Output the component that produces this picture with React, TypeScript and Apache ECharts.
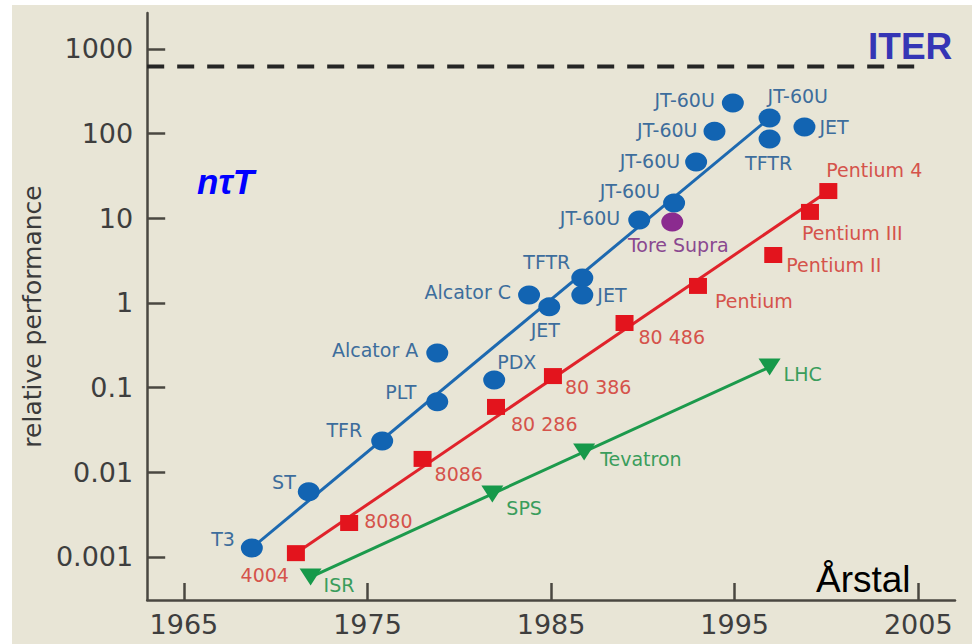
import React, { useEffect, useRef } from 'react';
import * as echarts from 'echarts';

// ---------- data ----------
const xTickYears = [1965, 1975, 1985, 1995, 2005];
const yTickValues = [0.001, 0.01, 0.1, 1, 10, 100, 1000];
const yTickLabels = ['0.001', '0.01', '0.1', '1', '10', '100', '1000'];

const fusionNames = ['T3', 'ST', 'TFR', 'PLT', 'Alcator A', 'PDX', 'Alcator C', 'JET', 'TFTR', 'JET',
  'JT-60U', 'JT-60U', 'JT-60U', 'JT-60U', 'JT-60U', 'JT-60U', 'TFTR', 'JET'];
const fusionYears = [1968.7, 1971.8, 1975.8, 1978.8, 1978.8, 1981.9, 1983.8, 1984.9, 1986.7, 1986.7,
  1989.8, 1991.7, 1992.9, 1993.9, 1994.9, 1996.9, 1996.9, 1998.8];
const fusionValues = [0.00128, 0.0059, 0.0234, 0.068, 0.256, 0.123, 1.24, 0.9, 1.97, 1.24,
  9.55, 15.2, 46.3, 107, 230, 153, 86.5, 120];

const toreSupraName = ['Tore Supra'];
const toreSupraYear = [1991.6];
const toreSupraValue = [9.05];

const chipNames = ['4004', '8080', '8086', '80 286', '80 386', '80 486', 'Pentium', 'Pentium II', 'Pentium III', 'Pentium 4'];
const chipYears = [1971.1, 1974.0, 1978.0, 1982.0, 1985.1, 1989.0, 1993.0, 1997.1, 1999.1, 2000.1];
const chipValues = [0.00111, 0.00252, 0.0144, 0.0592, 0.137, 0.58, 1.59, 3.69, 11.9, 21.0];

const colliderNames = ['ISR', 'SPS', 'Tevatron', 'LHC'];
const colliderYears = [1971.9, 1981.8, 1986.8, 1996.9];
const colliderValues = [0.00058, 0.00555, 0.0174, 0.175];

const fusionTrendYears = [1968.7, 1996.9];
const fusionTrendValues = [0.00128, 153];
const chipTrendYears = [1971.1, 2000.1];
const chipTrendValues = [0.00111, 21.0];
const colliderTrendYears = [1971.9, 1996.9];
const colliderTrendValues = [0.00058, 0.175];

const iterLevel = 620;
const iterYears = [1963, 2005];

// ---------- label placement (style) ----------
type Place = [string, number, number];
const fusionPlace: Place[] = [
  ['right', -17, -9], ['right', -13, -10], ['right', -20, -11], ['right', -21, -10], ['right', -19, -3],
  ['left', 3, -18], ['right', -18, -3], ['center', -4, 23], ['right', -12, -16], ['left', 15, 0],
  ['right', -19, -2], ['right', -14, -12], ['right', -16, -1], ['right', -17, -1], ['right', -18, -3],
  ['left', -2, -22], ['center', -1, 24], ['left', 15, 0],
];
const torePlace: Place[] = [['center', 6, 23]];
const chipPlace: Place[] = [
  ['right', -7, 22], ['left', 15, -2], ['left', 12, 15], ['left', 15, 17], ['left', 12, 11],
  ['left', 14, 14], ['left', 17, 15], ['left', 13, 10], ['left', -8, 21], ['left', -2, -21],
];
const colliderPlace: Place[] = [['left', 13, 8], ['left', 14, 14], ['left', 16, 7], ['left', 14, 7]];

const BG = '#e8e5d6';
const AXIS = '#4a4741';
const TICKTXT = '#3e3e3e';
const LABEL_FONT = '"DejaVu Sans", sans-serif';

const lg = (v: number) => Math.log10(v);

function points(names: string[], years: number[], values: number[], place: Place[], color: string) {
  return names.map((n, i) => ({
    name: n,
    value: [years[i], lg(values[i])],
    label: {
      show: true,
      position: 'inside',
      formatter: n,
      align: place[i][0],
      verticalAlign: 'middle',
      offset: [place[i][1], place[i][2]],
      color,
      fontSize: 19,
      fontFamily: LABEL_FONT,
    },
  }));
}

function trend(years: number[], values: number[]) {
  return years.map((y, i) => [y, lg(values[i])]);
}

function buildOption(): any {
  return {
    animation: false,
    backgroundColor: BG,
    grid: { left: 130, top: 8, right: 17, bottom: 44, containLabel: false },
    xAxis: {
      type: 'value',
      min: 1963,
      max: 2007,
      axisLine: { show: true, onZero: false, lineStyle: { color: AXIS, width: 2.5 } },
      axisTick: { show: true, inside: true, length: 17, customValues: xTickYears, lineStyle: { color: AXIS, width: 2.5 } },
      axisLabel: {
        show: true, customValues: xTickYears, margin: 11, color: TICKTXT, fontSize: 27,
        fontFamily: LABEL_FONT, formatter: (v: number) => String(Math.round(v)),
      },
      splitLine: { show: false },
    },
    yAxis: {
      type: 'value',
      min: -3.508,
      max: 3.425,
      name: 'relative performance',
      nameLocation: 'middle',
      nameRotate: 90,
      nameGap: 92,
      nameTextStyle: { color: '#3a3a3a', fontSize: 25, fontFamily: LABEL_FONT, padding: [0, 20, 0, 0] },
      axisLine: { show: true, onZero: false, lineStyle: { color: AXIS, width: 2.5 } },
      axisTick: { show: true, inside: true, length: 18, customValues: yTickValues.map(lg), lineStyle: { color: AXIS, width: 2.5 } },
      axisLabel: {
        show: true, customValues: yTickValues.map(lg), margin: 14, color: TICKTXT, fontSize: 27,
        fontFamily: LABEL_FONT,
        formatter: (v: number) => yTickLabels[Math.round(v) + 3] ?? '',
      },
      splitLine: { show: false },
    },
    series: [
      {
        type: 'line', name: 'ITER', silent: true, symbol: 'none',
        data: iterYears.map((y) => [y, lg(iterLevel)]),
        lineStyle: { color: '#252525', width: 4, type: [17, 13] },
        z: 1,
      },
      {
        type: 'line', silent: true, symbol: 'none', data: trend(fusionTrendYears, fusionTrendValues),
        lineStyle: { color: '#1d69b0', width: 3 }, z: 2,
      },
      {
        type: 'line', silent: true, symbol: 'none', data: trend(chipTrendYears, chipTrendValues),
        lineStyle: { color: '#e0232b', width: 3 }, z: 2,
      },
      {
        type: 'line', silent: true, symbol: 'none', data: trend(colliderTrendYears, colliderTrendValues),
        lineStyle: { color: '#1c9a4c', width: 3 }, z: 2,
      },
      {
        type: 'scatter', name: 'fusion', symbol: 'circle', symbolSize: [22, 19],
        itemStyle: { color: '#1264b2', opacity: 1 },
        data: points(fusionNames, fusionYears, fusionValues, fusionPlace, '#3d6d9c'),
        z: 3,
      },
      {
        type: 'scatter', name: 'Tore Supra', symbol: 'circle', symbolSize: [22, 19],
        itemStyle: { color: '#8b2b8f', opacity: 1 },
        data: points(toreSupraName, toreSupraYear, toreSupraValue, torePlace, '#8a4890'),
        z: 3,
      },
      {
        type: 'scatter', name: 'chips', symbol: 'rect', symbolSize: [18, 16],
        itemStyle: { color: '#e3141d', opacity: 1 },
        data: points(chipNames, chipYears, chipValues, chipPlace, '#d5534b'),
        z: 3,
      },
      {
        type: 'scatter', name: 'colliders', symbol: 'triangle', symbolRotate: 180, symbolSize: [22, 17],
        itemStyle: { color: '#16994a', opacity: 1 },
        data: points(colliderNames, colliderYears, colliderValues, colliderPlace, '#3a9d5c'),
        z: 3,
      },
    ],
    graphic: [
      {
        type: 'text', x: 856, y: 41, z: 10,
        style: { text: 'ITER', font: 'bold 37px "Liberation Sans", Arial, sans-serif', fill: '#3535b5', align: 'left', verticalAlign: 'middle' },
      },
      {
        type: 'text', x: 185, y: 176, z: 10,
        style: { text: 'nτT', font: 'italic bold 35px "Liberation Sans", Arial, sans-serif', fill: '#0000ff', align: 'left', verticalAlign: 'middle' },
      },
      {
        type: 'text', x: 804, y: 574, z: 10,
        style: { text: 'Årstal', font: '37px "Liberation Sans", Arial, sans-serif', fill: '#000000', align: 'left', verticalAlign: 'middle' },
      },
    ],
  };
}

export default function App() {
  const ref = useRef<HTMLDivElement>(null);
  useEffect(() => {
    document.body.style.margin = '0';
    if (!ref.current) return;
    const chart = echarts.init(ref.current, null, { renderer: 'svg' });
    chart.setOption(buildOption());
    return () => chart.dispose();
  }, []);
  return (
    <div style={{ width: 972, height: 644, background: '#ffffff', position: 'relative', overflow: 'hidden' }}>
      <div ref={ref} style={{ position: 'absolute', left: 12, top: 5, width: 960, height: 639, background: BG }} />
    </div>
  );
}
